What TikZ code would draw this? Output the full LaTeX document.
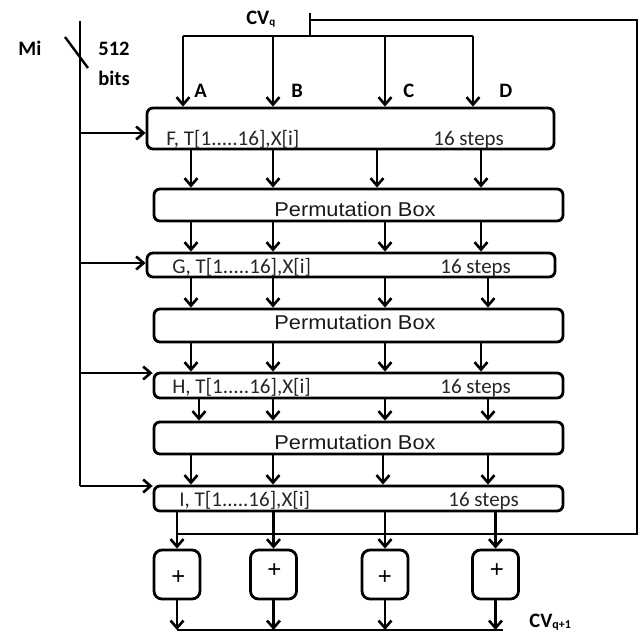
\documentclass[tikz,border=0pt]{standalone}
\usepackage{fontspec}
\setmainfont{Carlito}
\newfontfamily\arialf{Liberation Sans}
\usetikzlibrary{arrows.meta}
\begin{document}
\begin{tikzpicture}[x=1pt,y=-1pt,line width=2.8pt,
  arr/.style={-{Straight Barb[length=7.5pt,width=13pt,line width=2.6pt]}},
  box/.style={draw,rounded corners=6pt,inner sep=0pt},
  sbox/.style={draw,rounded corners=8pt,inner sep=0pt,minimum width=46pt,minimum height=49pt},
  lbl/.style={font=\fontsize{21}{21}\selectfont,text=black!85,inner sep=0pt,anchor=base west},
  ptxt/.style={font=\arialf\fontsize{20}{20}\selectfont,text=black!90,inner sep=0pt,anchor=base west},
  bl/.style={font=\bfseries\fontsize{20.5}{20.5}\selectfont,text=black,inner sep=0pt,anchor=base west},
  pl/.style={font=\arialf\fontsize{24}{24}\selectfont,text=black,inner sep=0pt}]
\useasboundingbox (0,0) rectangle (642,634);
% boxes
\node[box,minimum width=407pt,minimum height=41pt] (F) at (350.5,128.5) {};
\node[box,minimum width=409pt,minimum height=32pt] (P1) at (358.5,205) {};
\node[box,minimum width=408pt,minimum height=24pt] (G) at (351,265) {};
\node[box,minimum width=409pt,minimum height=33pt] (P2) at (358.5,325.5) {};
\node[box,minimum width=409pt,minimum height=25pt] (H) at (358.5,385.5) {};
\node[box,minimum width=409pt,minimum height=32pt] (P3) at (358.5,438) {};
\node[box,minimum width=409pt,minimum height=25pt] (I) at (358.5,498.5) {};
\node[sbox] (S1) at (177,574.5) {};
\node[sbox] (S2) at (273.5,574.5) {};
\node[sbox] (S3) at (385,574.5) {};
\node[sbox] (S4) at (495.5,574.5) {};
% box texts
\node[lbl] (tF) at (165,145) {F, T[1.....16],X[i]};
\node[lbl] (sF) at (432,145) {16 steps};
\node[lbl] (tG) at (171,273) {G, T[1.....16],X[i]};
\node[lbl] (sG) at (439,273) {16 steps};
\node[lbl] (tH) at (171,393) {H, T[1.....16],X[i]};
\node[lbl] (sH) at (439,393) {16 steps};
\node[lbl] (tI) at (178,506) {I, T[1.....16],X[i]};
\node[lbl] (sI) at (447,506) {16 steps};
\node[ptxt] (tP1) at (273,216) {\scalebox{1.09}[1]{Permutation Box}};
\node[ptxt] (tP2) at (273,329) {\scalebox{1.09}[1]{Permutation Box}};
\node[ptxt] (tP3) at (273,449) {\scalebox{1.09}[1]{Permutation Box}};
\node[pl] (p1) at (178.5,578) {+};
\node[pl] (p2) at (274.5,570.5) {+};
\node[pl] (p3) at (385,578) {+};
\node[pl] (p4) at (497,571) {+};
% labels
\node[bl] (mi) at (17,56) {Mi};
\node[bl] (n512) at (97,56) {512};
\node[bl] (bits) at (97,85) {bits};
\node[bl] (cvq) at (245,25) {CV\raisebox{-1pt}{\fontsize{11}{11}\selectfont q}};
\node[bl] (lA) at (193,97) {A};
\node[bl] (lB) at (290,97) {B};
\node[bl] (lC) at (402,97) {C};
\node[bl] (lD) at (498,97) {D};
\node[bl] (cvq1) at (528,627) {CV\raisebox{-1pt}{\fontsize{12}{12}\selectfont q+1}};
% coordinates
\coordinate (cvL) at (183,36);
\coordinate (cvR) at (473,36);
\coordinate (tickT) at (310,13);
\coordinate (tickB) at (310,36);
\coordinate (fbTL) at (310,20);
\coordinate (fbTR) at (637,20);
\coordinate (fbBR) at (637,534);
\coordinate (busL) at (177,534);
\coordinate (outL) at (177,630);
\coordinate (outR) at (503,630);
\coordinate (miTop) at (80,21);
\coordinate (miBot) at (80,486);
\coordinate (slA) at (65,37);
\coordinate (slB) at (88,68);
% top CV lines
\draw (cvL) -- (cvR);
\draw (tickT) -- (tickB);
\draw (busL) -- (fbBR) -- (fbTR) -- (fbTL);
\foreach \x in {183,273,385,473}{\coordinate (t) at (\x,36); \draw[arr] (t) -- (t |- F.north);}
% vertical arrows between boxes
\foreach \x in {191,273,377,481}{\coordinate (t) at (\x,0); \draw[arr] (F.south -| t) -- (P1.north -| t);}
\foreach \x in {191,273,385,481}{\coordinate (t) at (\x,0); \draw[arr] (P1.south -| t) -- (G.north -| t);}
\foreach \x in {191,273,385,488}{\coordinate (t) at (\x,0); \draw[arr] (G.south -| t) -- (P2.north -| t);}
\foreach \x in {191,273,385,481}{\coordinate (t) at (\x,0); \draw[arr] (P2.south -| t) -- (H.north -| t);}
\foreach \x in {199,273,385,488}{\coordinate (t) at (\x,0); \draw[arr] (H.south -| t) -- (P3.north -| t);}
\foreach \x in {191,273,383,488}{\coordinate (t) at (\x,0); \draw[arr] (P3.south -| t) -- (I.north -| t);}
% I to bus and adders
\foreach \i in {1,2,3,4}{
  \draw (I.south -| S\i.north) -- (S\i.north |- busL);
  \draw[arr] (S\i.north |- busL) -- (S\i.north);
  \draw[arr] (S\i.south) -- (S\i.south |- outL);
}
\draw (outL) -- (outR);
% Mi input
\draw (miTop) -- (miBot);
\draw[line width=2.4pt] (slA) -- (slB);
\foreach \n/\y in {F/133,G/263,H/373,I/486}{\coordinate (m) at (80,\y); \draw[arr] (m) -- (m -| \n.west);}
\end{tikzpicture}
\end{document}
